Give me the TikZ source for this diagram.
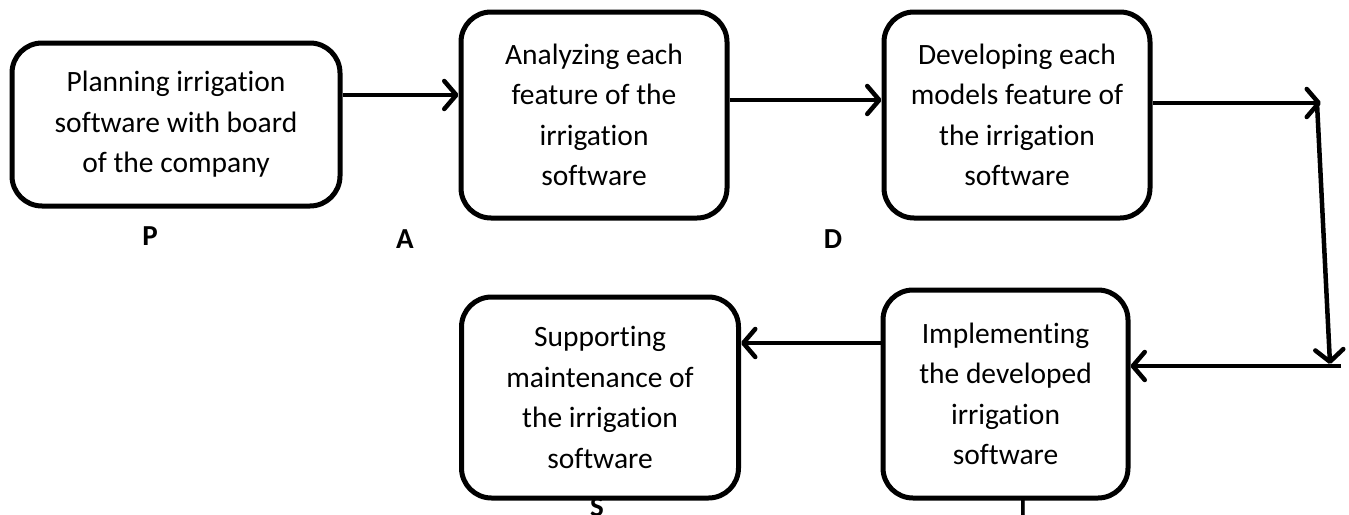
\documentclass[tikz,border=0pt]{standalone}
\usepackage{fontspec}
\setmainfont[Ligatures=NoCommon]{Carlito}
\usetikzlibrary{arrows.meta}
\begin{document}
\begin{tikzpicture}[x=1pt,y=-1pt,
  stepbox/.style={draw,line width=5pt,rounded corners=30pt,align=center,
    font=\fontsize{29.5}{40.5}\selectfont,inner sep=0pt},
  lbl/.style={font=\fontsize{29}{32}\selectfont\bfseries,inner sep=0pt},
  conn/.style={line width=4.5pt,-{Straight Barb[length=12pt,width=28pt,line width=4.5pt,round]}},
  plain/.style={line width=4.5pt}]
\useasboundingbox (0,0) rectangle (1349,514);
\node[stepbox,minimum width=328pt,minimum height=163pt] (P) at (176,124.5)
  {Planning irrigation\\software with board\\of the company};
\node[stepbox,minimum width=266pt,minimum height=206pt] (A) at (594,115)
  {Analyzing each\\feature of the\\irrigation\\software};
\node[stepbox,minimum width=266pt,minimum height=206pt] (D) at (1017,115)
  {Developing each\\models feature of\\the irrigation\\software};
\node[stepbox,minimum width=245pt,minimum height=208pt] (I) at (1005.5,394)
  {Implementing\\the developed\\irrigation\\software};
\node[stepbox,minimum width=277pt,minimum height=201pt] (S) at (600,397.5)
  {Supporting\\maintenance of\\the irrigation\\software};
\node[lbl] (lP) at (150,236.5) {P};
\node[lbl] (lA) at (405,239) {A};
\node[lbl] (lD) at (833,239) {D};
\node[lbl] (lS) at (597,507) {S};
\node[lbl] (lI) at (1023,507) {I};
\coordinate (c1) at (1321,103);
\coordinate (c0) at (1317,103);
\coordinate (c2) at (1330,364);
\coordinate (c3) at (1341,366);
\draw[conn] (P.east |- 0,95) -- (A.west |- 0,95);
\draw[conn] (A.east |- 0,100) -- (D.west |- 0,100);
\draw[conn] (D.east |- 0,103) -- (c1);
\draw[conn] (c0) -- (c2);
\draw[conn] (c3) -- (I.east |- c3);
\draw[conn] (I.west |- 0,343) -- (S.east |- 0,343);
\end{tikzpicture}
\end{document}
